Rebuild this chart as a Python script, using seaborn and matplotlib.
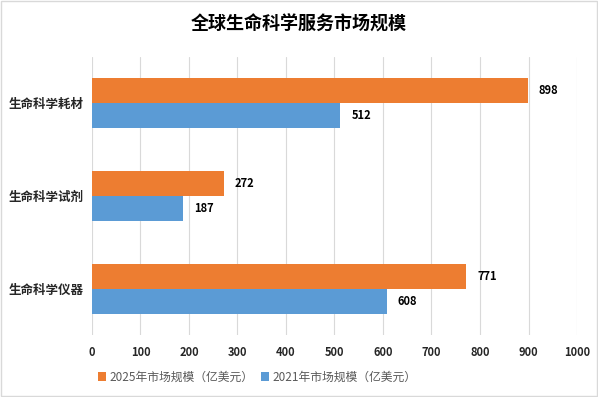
import matplotlib
matplotlib.use("Agg")
import matplotlib.pyplot as plt
import seaborn as sns
import pandas as pd
from matplotlib.patches import Rectangle

categories = ["生命科学耗材", "生命科学试剂", "生命科学仪器"]
series_names = ["2025年市场规模（亿美元）", "2021年市场规模（亿美元）"]
values_2025 = [898, 272, 771]
values_2021 = [512, 187, 608]
x_ticks = [0, 100, 200, 300, 400, 500, 600, 700, 800, 900, 1000]

sns.set_theme(style="white")
plt.rcParams['font.family'] = ['Noto Sans CJK SC', 'DejaVu Sans']

df = pd.DataFrame({
    "category": categories * 2,
    "series": [series_names[0]] * 3 + [series_names[1]] * 3,
    "value": values_2025 + values_2021,
})

fig = plt.figure(figsize=(5.98, 3.97), dpi=100)
ax = fig.add_axes([0.1538, 0.1562, 0.8111, 0.7002])

palette = {series_names[0]: "#ED7D31", series_names[1]: "#5B9BD5"}
sns.barplot(data=df, x="value", y="category", hue="series", order=categories,
            hue_order=series_names, palette=palette, orient="h", width=0.54,
            saturation=1, ax=ax, legend=True, zorder=3, linewidth=0)

for cont in ax.containers:
    ax.bar_label(cont, labels=[f"{int(v)}" for v in cont.datavalues], padding=8,
                 fontsize=8, fontweight="bold", color="#000000")

ax.set_xlim(0, 1000)
ax.set_xticks(x_ticks)
ax.set_xticklabels([str(t) for t in x_ticks], fontsize=8, fontweight="bold")
ax.set_ylabel("")
ax.set_xlabel("")
for lab in ax.get_yticklabels():
    lab.set_fontsize(9)
    lab.set_fontweight("bold")
ax.tick_params(axis="y", length=0, pad=6)
ax.tick_params(axis="x", length=0, pad=8)
ax.grid(axis="x", color="#D9D9D9", linewidth=0.8, zorder=0)
ax.set_axisbelow(True)
for s in ax.spines.values():
    s.set_visible(False)

handles, labels = ax.get_legend_handles_labels()
ax.get_legend().remove()
fig.legend(handles, labels, loc="center", bbox_to_anchor=(0.43, 0.05), ncol=2,
           frameon=False, fontsize=8.5, handlelength=0.7, handleheight=0.7,
           handletextpad=0.3, columnspacing=0.6, labelcolor="#595959")

fig.text(0.5, 0.94, "全球生命科学服务市场规模", ha="center", va="center",
         fontsize=13, fontweight="bold", color="#000000")

fig.patches.append(Rectangle((0.002, 0.003), 0.996, 0.994, transform=fig.transFigure,
                             fill=False, edgecolor="#D9D9D9", linewidth=1))

fig.savefig("out.png", dpi=100)
